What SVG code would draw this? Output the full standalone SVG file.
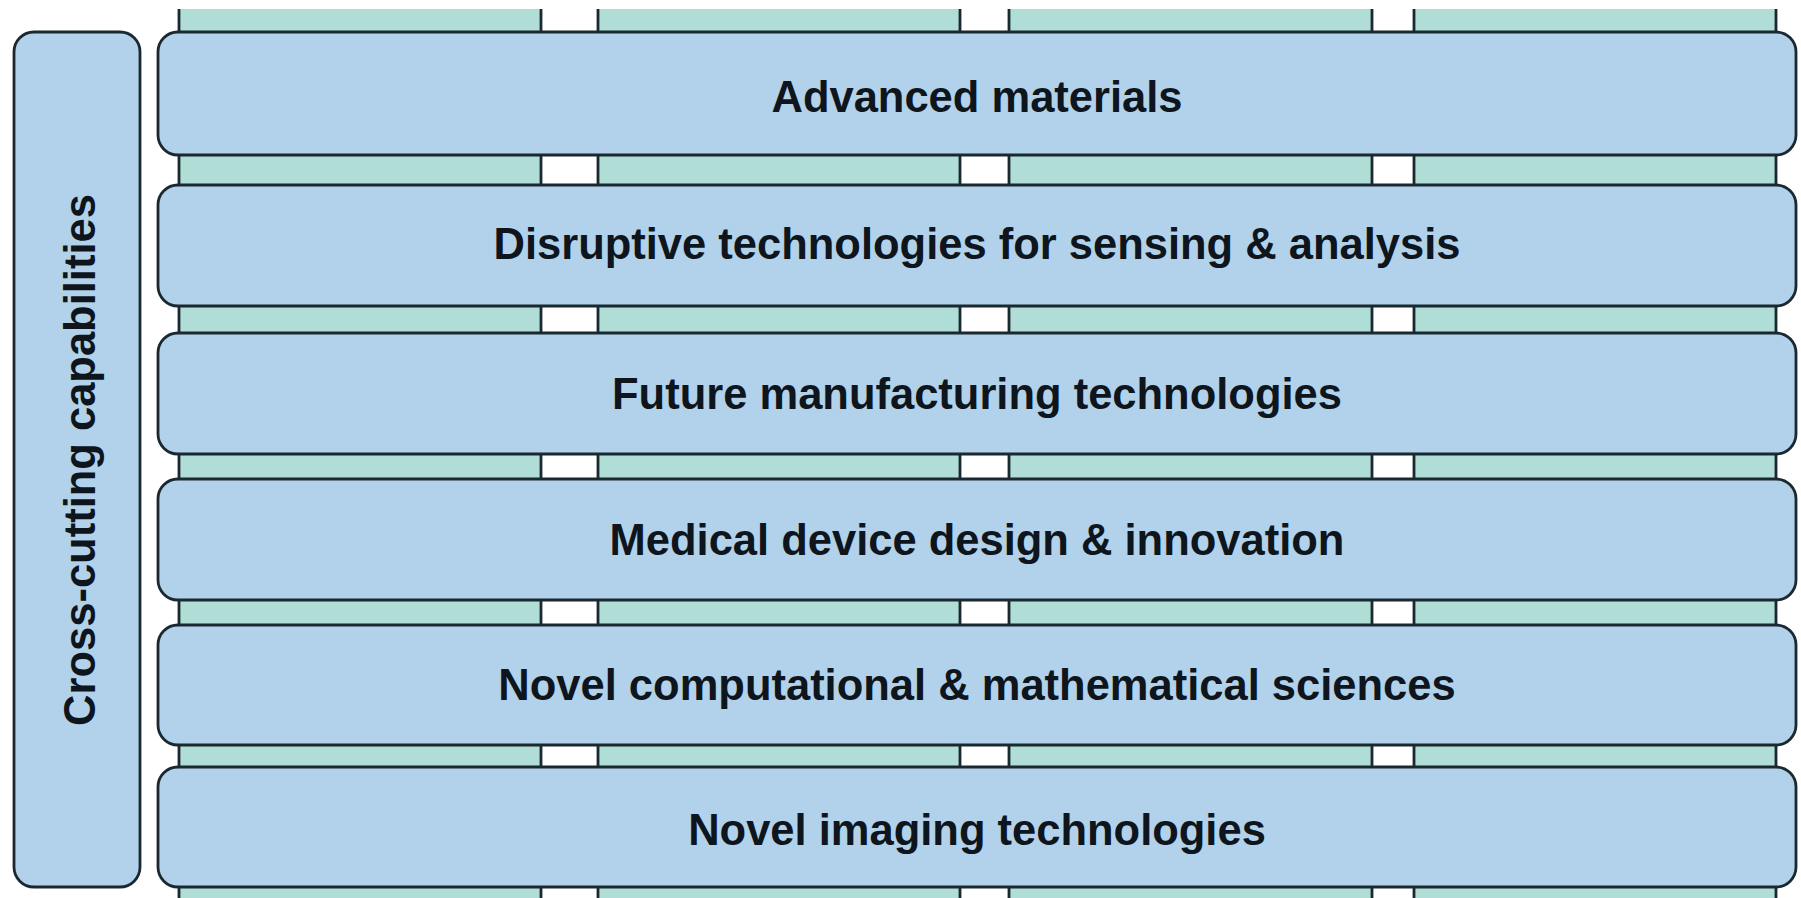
<svg xmlns="http://www.w3.org/2000/svg" width="1801" height="898" viewBox="0 0 1801 898">
<style>
.col{fill:#b0ddd6;}
.edge{stroke:#1a2830;stroke-width:2.8;fill:none;}
.box{fill:#b1d2ea;stroke:#1a2830;stroke-width:2.8;}
.lbl{font-family:"Liberation Sans",Arial,sans-serif;font-weight:bold;font-size:43.5px;fill:#0e151c;text-anchor:middle;}
</style>
<rect width="1801" height="898" fill="#ffffff"/>
<g id="columns">
<rect class="col" x="179" y="9" width="362" height="895"/>
<rect class="col" x="598" y="9" width="362" height="895"/>
<rect class="col" x="1009" y="9" width="363" height="895"/>
<rect class="col" x="1414" y="9" width="362" height="895"/>
<path class="edge" d="M179 9V898M541 9V898M598 9V898M960 9V898M1009 9V898M1372 9V898M1414 9V898M1776 9V898"/>
</g>
<g id="cross-cutting">
<rect class="box" x="14" y="32" width="126" height="855" rx="20" ry="20"/>
<text class="lbl" transform="translate(95,460) rotate(-90)">Cross-cutting capabilities</text>
</g>
<g id="advanced-materials">
<rect class="box" x="158" y="32" width="1638" height="123" rx="20" ry="20"/>
<text class="lbl" x="977" y="112">Advanced materials</text>
</g>
<g id="disruptive-technologies">
<rect class="box" x="158" y="185" width="1638" height="121" rx="20" ry="20"/>
<text class="lbl" x="977" y="259">Disruptive technologies for sensing &amp; analysis</text>
</g>
<g id="future-manufacturing">
<rect class="box" x="158" y="333" width="1638" height="121" rx="20" ry="20"/>
<text class="lbl" x="977" y="409">Future manufacturing technologies</text>
</g>
<g id="medical-device">
<rect class="box" x="158" y="479" width="1638" height="121" rx="20" ry="20"/>
<text class="lbl" x="977" y="555">Medical device design &amp; innovation</text>
</g>
<g id="novel-computational">
<rect class="box" x="158" y="625" width="1638" height="120" rx="20" ry="20"/>
<text class="lbl" x="977" y="700">Novel computational &amp; mathematical sciences</text>
</g>
<g id="novel-imaging">
<rect class="box" x="158" y="767" width="1638" height="120" rx="20" ry="20"/>
<text class="lbl" x="977" y="845">Novel imaging technologies</text>
</g>
</svg>
